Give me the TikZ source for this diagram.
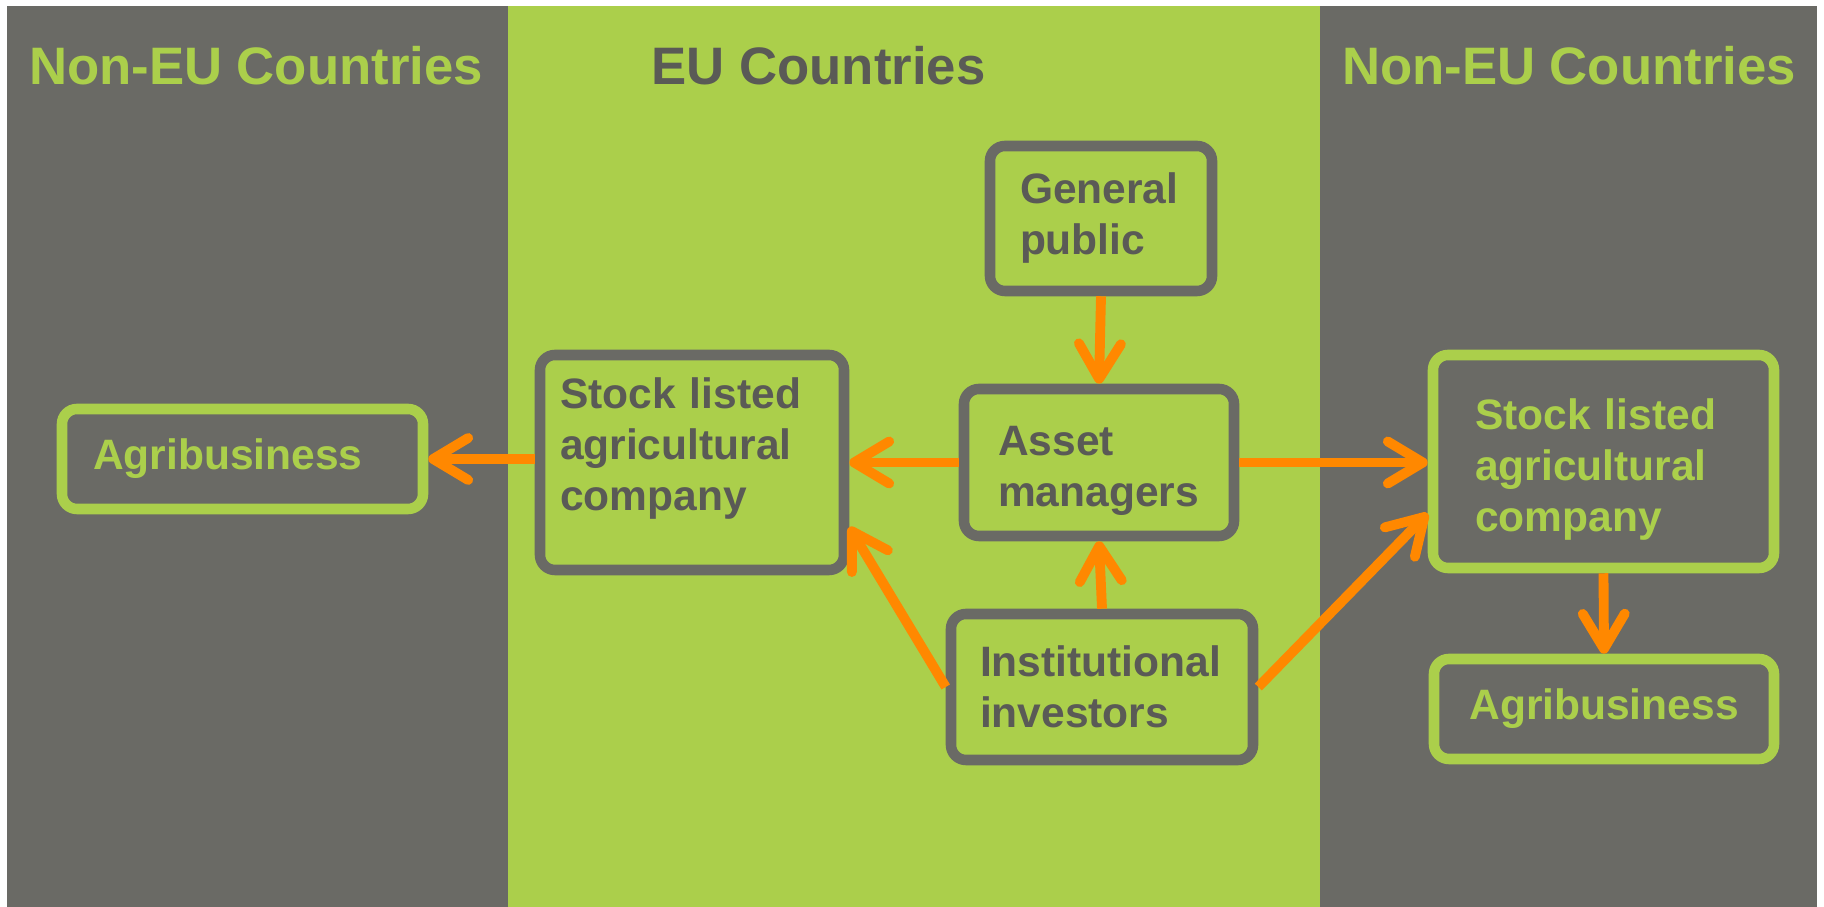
\documentclass[tikz,border=0pt]{standalone}
\usepackage{fontspec}
\setmainfont{Liberation Sans}
\usetikzlibrary{positioning, arrows.meta}
\usepackage{xcolor}
\definecolor{PanelGray}{HTML}{6A6A65}
\definecolor{PanelGreen}{HTML}{ABCF4B}
\definecolor{FlowOrange}{HTML}{FF8800}
\definecolor{TextGray}{HTML}{5A5A56}

\begin{document}
\begin{tikzpicture}[
                box/.style={rectangle, rounded corners=0.15cm, line width=3pt, inner sep=0pt, align=left, font=\fontsize{12.1}{14.5}\selectfont\bfseries},
                eubox/.style={box, draw=PanelGray, fill=PanelGreen, text=TextGray},
                nonbox/.style={box, draw=PanelGreen, fill=PanelGray, text=PanelGreen},
                title/.style={anchor=base, font=\fontsize{15}{18}\selectfont\bfseries},
                flow/.style={-{Straight Barb[length=0.35cm, width=0.42cm, round]}, FlowOrange, line width=2.8pt}
            ]
                \useasboundingbox (0,0) rectangle (18.24,9.07);

                % Regions
                \fill[PanelGray] (0.07,0) rectangle (5.08,9.01);
                \fill[PanelGreen] (5.08,0) rectangle (13.20,9.01);
                \fill[PanelGray] (13.20,0) rectangle (18.17,9.01);

                \node[title, text=PanelGreen] (nonL) at (2.56,8.22) {Non-EU Countries};
                \node[title, text=TextGray] (eu) at (8.185,8.22) {EU Countries};
                \node[title, text=PanelGreen] (nonR) at (15.69,8.22) {Non-EU Countries};

                % Non-EU (left)
                \node[nonbox, minimum width=3.61cm, minimum height=1.00cm, text width=2.99cm] (agriL) at (2.425,4.48) {Agribusiness};

                % EU
                \node[eubox, minimum width=3.04cm, minimum height=2.15cm, text width=2.64cm] (stockL) at (6.92,4.445) {Stock listed\\agricultural\\company\rule[-0.37cm]{0pt}{0pt}};
                \node[eubox, minimum width=2.22cm, minimum height=1.45cm, text width=1.62cm] (public) at (11.01,6.885) {General\\public};
                \node[eubox, minimum width=2.70cm, minimum height=1.47cm, text width=2.02cm] (asset) at (10.99,4.445) {\rule{0pt}{0.47cm}Asset\\managers};
                \node[eubox, minimum width=3.02cm, minimum height=1.46cm, text width=2.44cm] (inst) at (11.02,2.20) {Institutional\\investors};

                % Non-EU (right)
                \node[nonbox, minimum width=3.41cm, minimum height=2.13cm, text width=2.57cm] (stockR) at (16.035,4.455) {\rule{0pt}{0.47cm}Stock listed\\agricultural\\company};
                \node[nonbox, minimum width=3.40cm, minimum height=1.00cm, align=center] (agriR) at (16.04,1.98) {Agribusiness};

                % Flows
                \draw[flow] (stockL.west |- agriL.east) -- (agriL.east);
                \draw[flow] (asset.west) -- (asset.west -| stockL.east);
                \draw[flow] (public.south) -- (asset.north);
                \draw[flow] (inst.north) -- (asset.south);
                \draw[flow] (inst.west) -- ([yshift=-0.645cm]stockL.east);
                \draw[flow] (asset.east) -- (asset.east -| stockR.west);
                \draw[flow] (inst.east) -- ([yshift=-0.52cm]stockR.west);
                \draw[flow] (stockR.south) -- (agriR.north);
            \end{tikzpicture}
\end{document}
